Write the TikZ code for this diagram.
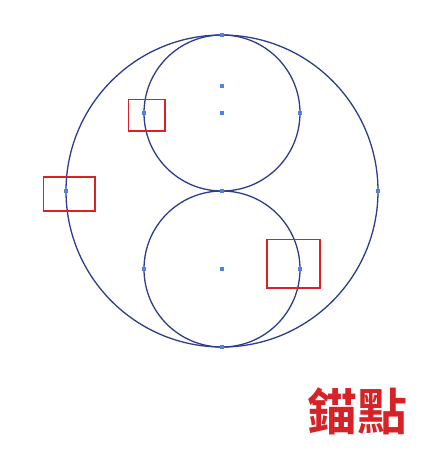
\documentclass[tikz,border=0pt]{standalone}
\usepackage{fontspec}
\newfontfamily\cjk{Noto Sans CJK TC Bold}
\usepackage{xcolor}
\definecolor{pathblue}{RGB}{45,60,140}
\definecolor{anchorblue}{RGB}{80,130,230}
\definecolor{markred}{RGB}{215,35,40}
\begin{document}
\begin{tikzpicture}[x=1pt,y=-1pt]
	\useasboundingbox (0,0) rectangle (445,459);
	\begin{scope}[every path/.style={draw=pathblue,line width=1.3pt}]
		\draw (222,191) circle (156);
		\draw (222,113) circle (78);
		\draw (222,269) circle (78);
	\end{scope}
	
	\begin{scope}[every node/.style={fill=anchorblue,minimum size=4.5pt,inner sep=0pt}]
		\node (t) at (222,35) {};
		\node (c1) at (222,86) {};
		\node (c2) at (222,113) {};
		\node (l1) at (144,113) {};
		\node (r1) at (300,113) {};
		\node (L) at (66,191) {};
		\node (m) at (222,191) {};
		\node (R) at (378,191) {};
		\node (l2) at (144,269) {};
		\node (c3) at (222,269) {};
		\node (r2) at (300,269) {};
		\node (b) at (222,347) {};
	\end{scope}
	
	\begin{scope}[every path/.style={draw=markred,line width=1.6pt}]
		\draw (128.5,99.5) rectangle (165,131);
		\draw (43.5,177) rectangle (95,211);
		\draw (267,239.5) rectangle (320,288);
	\end{scope}
	
	\node[text=markred,font=\cjk\fontsize{50}{50}\selectfont,inner sep=0pt] (title) at (357,411) {錨點};
\end{tikzpicture}
\end{document}
